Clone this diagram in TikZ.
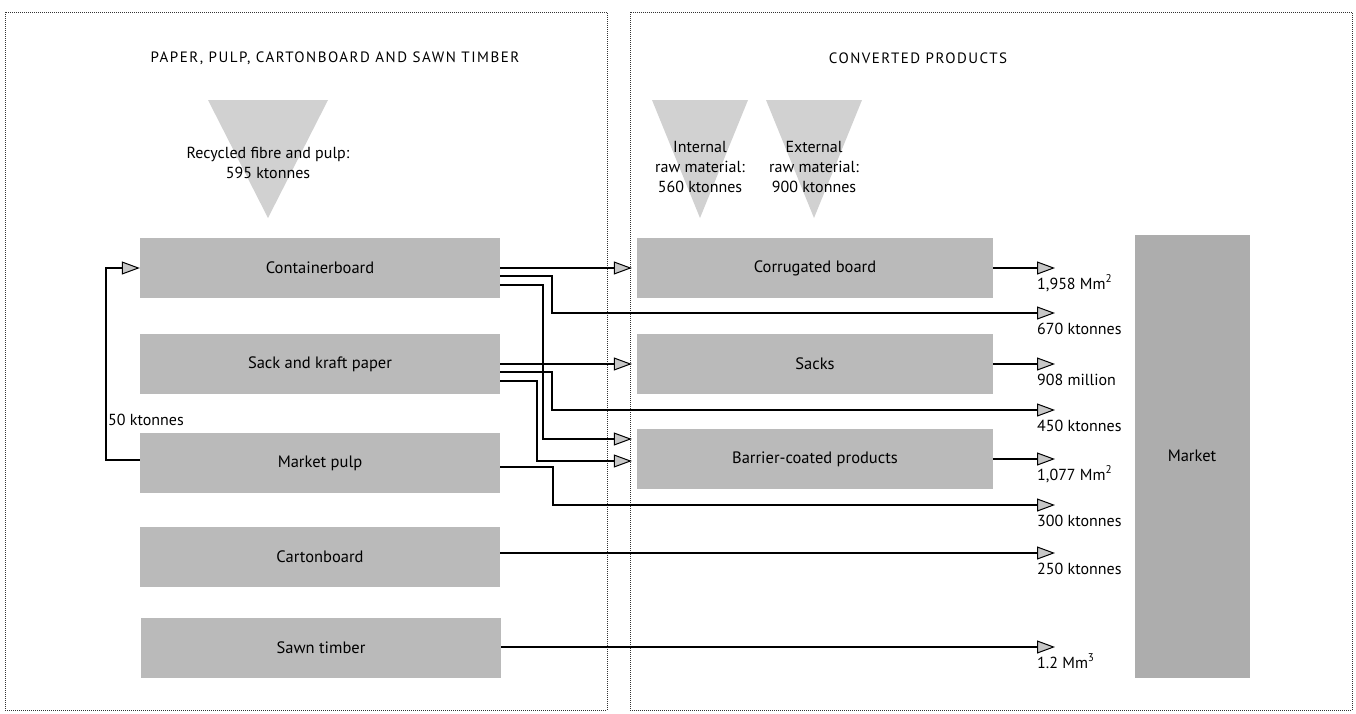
\documentclass[tikz,border=0pt]{standalone}
\usepackage{fontspec}
\setmainfont{PT Sans}
\usetikzlibrary{arrows.meta, calc}
\tikzset{
  box/.style     = {fill=black!27, minimum width=360pt, minimum height=60pt,
                    inner sep=0pt, font=\fontsize{16.5}{19}\selectfont},
  prod/.style    = {box, minimum width=356pt},
  frame/.style   = {densely dotted, line width=1pt, black!80},
  tri/.style     = {fill=black!18},
  tritxt/.style  = {align=center, inner sep=0pt, font=\fontsize{16}{20}\selectfont},
  flow/.style    = {line width=2pt,
                    -{Triangle[length=18pt, width=13pt, fill=black!22, line width=1pt]}},
  outflow/.style = {flow, line width=1.5pt},
  lbl/.style     = {font=\fontsize{16}{19}\selectfont, inner sep=0pt},
  ttl/.style     = {font=\fontsize{15}{17}\selectfont\addfontfeature{LetterSpace=10}},
}

\begin{document}
\begin{tikzpicture}[x=1pt, y=-1pt]
  \useasboundingbox (0,0) rectangle (1356,713);
  % frames and titles
  \draw[frame] (5,12) rectangle (607,710);
  \draw[frame] (630,12) rectangle (1352,710);
  \node[ttl] (tmill) at (335,58) {PAPER, PULP, CARTONBOARD AND SAWN TIMBER};
  \node[ttl] (tconv) at (918,58) {CONVERTED PRODUCTS};
  % raw material inputs
  \fill[tri] (208,100) -- (328,100) -- (268,218) -- cycle;
  \node[tritxt] (recyc) at (268,163) {Recycled fibre and pulp:\\595 ktonnes};
  \fill[tri] (652,100) -- (748,100) -- (700,218) -- cycle;
  \node[tritxt] (intraw) at (700,167) {Internal\\raw material:\\560 ktonnes};
  \fill[tri] (766,100) -- (862,100) -- (814,218) -- cycle;
  \node[tritxt] (extraw) at (814,167) {External\\raw material:\\900 ktonnes};
  % mill products
  \node[box] (cb) at (320,268) {Containerboard};
  \node[box] (sk) at (320,364) {Sack and kraft paper};
  \node[box] (mp) at (320,463) {Market pulp};
  \node[box] (ct) at (320,557) {Cartonboard};
  \node[box] (st) at (321,648) {Sawn timber};
  % converted products
  \node[prod] (cg) at (815,268) {Corrugated board};
  \node[prod] (sa) at (815,364) {Sacks};
  \node[prod] (bc) at (815,459) {Barrier-coated products};
  \node[fill=black!32, minimum width=115pt, minimum height=443pt, inner sep=0pt,
        font=\fontsize{16.5}{19}\selectfont] (mk) at (1192,456) {Market};
  % deliveries to market
  \foreach \n/\y/\t in {a/268/{1,958 Mm\textsuperscript{2}}, b/313/{670 ktonnes},
                        c/364/{908 million}, d/410/{450 ktonnes},
                        e/459/{1,077 Mm\textsuperscript{2}}, f/505/{300 ktonnes},
                        g/553/{250 ktonnes}, h/647/{1.2 Mm\textsuperscript{3}}}{
    \coordinate (o\n) at (1055,\y);
    \node[lbl, anchor=base west] (l\n) at (1037,\y+21) {\t};
  }
  % flows between the two sides
  \draw[flow] (cb.east) -- ([xshift=-5pt]cg.west);
  \draw[flow] ([yshift=-8pt]cb.east) -- ++(52,0) |- (ob);
  \draw[flow] ([yshift=-17pt]cb.east) -- ++(43,0) |- ([yshift=20pt, xshift=-5pt]bc.west);
  \draw[flow] (sk.east) -- ([xshift=-5pt]sa.west);
  \draw[flow] ([yshift=-8pt]sk.east) -- ++(52,0) |- (od);
  \draw[flow] ([yshift=-17pt]sk.east) -- ++(37,0) |- ([yshift=-2pt, xshift=-5pt]bc.west);
  \draw[flow] ([yshift=-4pt]mp.east) -- ++(53,0) |- (of);
  \draw[flow] (ct.east |- og) -- (og);
  \draw[flow] (st.east |- oh) -- (oh);
  \draw[outflow] (cg.east) -- (oa);
  \draw[outflow] (sa.east) -- (oc);
  \draw[outflow] (bc.east) -- (oe);
  % pulp returned to containerboard
  \draw[flow] ([yshift=3pt]mp.west) -- ++(-34,0) |- (cb.west);
  \node[lbl, anchor=west] (l50) at (108,420) {50 ktonnes};
\end{tikzpicture}
\end{document}
